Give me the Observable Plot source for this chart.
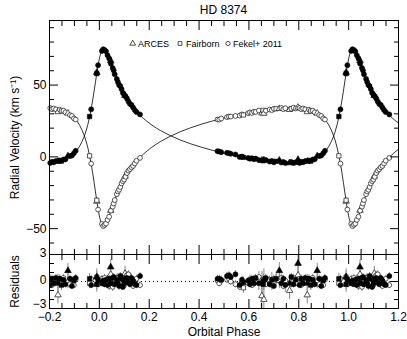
<!DOCTYPE html>
<html><head><meta charset="utf-8">
<script src="https://cdn.jsdelivr.net/npm/d3@7"></script>
<script src="https://cdn.jsdelivr.net/npm/@observablehq/plot@0.6"></script>
<style>
body{margin:0;background:#fff;}
#wrap{position:relative;width:407px;height:339px;font-family:"Liberation Sans",Arial,sans-serif;color:#000;}
#title{height:20px;line-height:20px;font-size:12px;padding-left:49px;width:349px;text-align:center;}
#wrap svg{display:block;}
</style></head><body><div id="wrap"><div id="title">HD 8374</div></div>
<script>
// ---- Orbital model curve, phase in [0,1)
const curvePhase = [0.0000,0.00507,0.01024,0.01551,0.02099,0.02673,0.0328,0.03926,0.04614,0.05354,0.0615,0.06998,0.0791,0.08897,0.0995,0.1107,0.1227,0.1354,0.1489,0.1632,0.1783,0.2106,0.2458,0.2837,0.3239,0.3661,0.4099,0.4547,0.5000,0.5453,0.5901,0.6339,0.6761,0.7163,0.7542,0.7894,0.8218,0.8511,0.8773,0.9005,0.9209,0.9385,0.94647,0.9539,0.96075,0.9672,0.97328,0.9790,0.98449,0.9898,0.99493];
const curveV1 = [68.30,71.76,73.98,74.93,74.65,73.33,71.15,68.34,65.05,61.51,57.84,54.12,50.47,46.92,43.51,40.27,37.19,34.29,31.55,28.99,26.58,22.18,18.31,14.88,11.83,9.12,6.70,4.53,2.61,0.91,-0.57,-1.82,-2.83,-3.57,-3.98,-3.99,-3.50,-2.35,-0.34,2.81,7.45,13.94,18.00,22.61,27.80,33.48,39.57,45.90,52.22,58.27,63.72];
const curveV2 = [-41.14,-44.74,-47.03,-48.02,-47.73,-46.36,-44.10,-41.18,-37.77,-34.10,-30.28,-26.42,-22.64,-18.95,-15.41,-12.04,-8.84,-5.84,-3.00,-0.33,2.17,6.73,10.75,14.31,17.47,20.29,22.80,25.05,27.04,28.81,30.34,31.64,32.69,33.46,33.89,33.90,33.39,32.20,30.11,26.83,22.03,15.28,11.07,6.29,0.90,-5.00,-11.32,-17.88,-24.45,-30.73,-36.39];

// ---- Observations
const sourceCodes = ["A","B","F"];
const sourceNames = ["ARCES","Fairborn","Fekel+ 2011"];
const sourceSymbols = ["triangle","square","circle"];
const obsPhase = [0.9608,0.9672,0.9898,0.9898,0.9949,0.0102,0.0155,0.0210,0.0267,0.0328,0.0393,0.0455,0.0461,0.0535,0.0575,0.0615,0.0700,0.0745,0.0791,0.0840,0.0890,0.0942,0.0995,0.1030,0.1050,0.1107,0.1167,0.1227,0.1290,0.1354,0.1420,0.1489,0.1632,
 0.474,0.481,0.489,0.512,0.520,0.527,0.546,0.563,0.572,0.578,0.597,0.604,0.612,0.620,0.627,0.640,0.652,0.657,0.660,0.668,0.683,0.692,0.700,0.709,0.722,0.730,0.738,0.746,0.763,0.770,0.779,0.788,0.797,0.803,0.810,0.817,0.826,0.834,0.841,0.848,0.856,0.864,0.874,0.882,0.890,0.898,0.905];
const obsSource = ["B","F","A","B","F","F","F","F","F","F","F","A","F","F","F","F","F","F","F","F","F","F","F","A","F","F","F","F","F","F","F","F","F",
 "F","F","F","F","F","F","F","F","F","B","F","F","F","F","F","F","A","B","A","F","F","F","F","B","A","F","F","F","A","F","F","F","A","F","F","F","F","A","F","B","F","F","A","F","F","F","F"];
const obsV1 = [28.1,33.1,58.8,58.0,63.9,73.8,75.0,74.4,73.5,70.8,68.6,67.0,64.9,61.9,60.2,57.5,54.3,52.1,50.0,49.3,47.2,44.6,43.3,42.7,42.2,40.7,38.6,36.9,36.2,34.4,32.6,31.2,29.6,
 4.0,3.7,3.3,2.8,2.6,2.1,1.7,-0.1,0.2,-0.3,-0.7,-1.3,-0.9,-1.6,-1.2,-2.2,-2.4,-2.7,-2.2,-2.2,-3.3,-2.9,-3.8,-3.1,-2.4,-3.9,-3.5,-4.3,-4.2,-3.5,-4.3,-3.8,-1.9,-4.2,-3.4,-3.8,-2.9,-3.2,-2.5,-2.9,-1.8,-1.7,0.6,0.6,0.9,2.6,4.2];
const obsV2 = [0.7,-4.7,-31.0,-30.2,-36.7,-46.7,-48.2,-47.3,-46.5,-43.9,-41.7,-37.3,-37.5,-34.7,-32.5,-30.1,-26.0,-24.1,-22.9,-21.0,-18.5,-16.9,-15.8,-13.5,-13.9,-11.3,-9.6,-8.6,-7.3,-6.3,-4.6,-2.7,-0.7,
 26.0,26.0,26.7,27.7,28.1,28.1,28.5,28.8,29.6,29.2,30.4,31.0,30.6,31.5,31.3,32.3,30.5,32.4,30.3,32.2,33.0,32.6,33.5,33.5,33.6,34.0,33.2,33.9,32.9,33.6,34.3,33.7,34.5,34.0,33.2,33.7,33.1,31.4,32.9,32.0,32.2,31.0,30.4,29.1,28.5,26.8,26.0];
const obsRes1 = [0.3,-0.4,0.5,-0.3,0.2,-0.2,0.1,-0.3,0.2,-0.4,0.3,1.6,-0.2,0.4,0.5,-0.3,0.2,-0.2,-0.5,0.6,0.3,-0.6,-0.2,0.2,0.3,0.4,-0.1,-0.3,0.4,0.1,-0.3,-0.4,0.6,
 0.3,0.3,0.2,0.6,0.7,0.5,0.8,-0.4,0.2,-0.1,0.1,-0.3,0.3,-0.2,0.4,-0.2,-0.1,-0.3,0.2,0.4,-0.3,0.2,-0.5,0.3,1.2,-0.2,0.3,-0.4,-0.2,0.5,-0.3,0.2,2.0,-0.4,0.3,-0.2,0.4,-0.2,0.3,-0.4,0.2,-0.3,1.2,0.3,-0.5,0.1,0.4];
const obsRes2 = [-0.2,0.3,-0.3,0.5,-0.3,0.3,-0.2,0.4,-0.1,0.2,-0.5,0.8,0.3,-0.6,-0.3,0.2,0.4,0.4,-0.3,-0.2,0.5,0.3,-0.4,0.9,-0.1,0.7,0.8,0.2,0.1,-0.5,-0.2,0.3,-0.4,
 0.1,-0.2,0.1,0.2,0.3,0.0,-0.3,-0.6,-0.1,-0.7,-0.2,0.2,-0.4,0.3,-0.1,0.5,-1.6,0.2,-2.0,-0.3,0.2,-0.4,0.3,0.2,0.1,0.4,-0.5,0.1,-1.0,-0.3,0.4,-0.2,0.7,0.3,-0.4,0.2,-0.1,-1.5,0.3,-0.3,0.4,-0.2,0.0,-0.3,0.2,-0.4,0.2];
const obsErr1 = [0.6,0.4,0.9,0.6,0.4,0.4,0.4,0.4,0.4,0.4,0.4,0.8,0.4,0.4,0.4,0.4,0.4,0.4,0.5,0.4,0.4,0.4,0.4,0.8,0.4,0.4,0.4,0.4,0.4,0.4,0.4,0.4,0.4,
 0.4,0.4,0.4,0.4,0.4,0.4,0.4,0.4,0.4,0.6,0.4,0.4,0.4,0.5,0.4,0.8,1.2,0.6,1.2,0.4,0.4,0.8,0.4,0.6,0.9,0.4,0.4,0.8,1.0,0.4,0.4,0.4,1.1,0.4,0.4,0.4,0.4,1.0,0.4,0.6,0.4,0.4,0.8,0.4,0.4,0.4,0.4];
const obsErr2 = [0.6,0.4,0.9,0.6,0.4,0.4,0.4,0.4,0.4,0.5,0.5,0.8,0.4,0.5,0.4,0.4,0.4,0.5,0.4,0.4,0.4,0.4,0.4,0.8,0.4,0.4,0.4,0.4,0.4,0.4,0.4,0.4,0.4,
 0.4,0.4,0.4,0.4,0.4,0.4,0.4,0.4,0.4,0.6,0.4,0.5,0.4,0.4,0.4,0.6,1.5,0.6,1.6,0.4,0.4,0.6,0.4,0.6,0.9,0.4,0.4,0.4,1.0,0.4,0.4,0.4,1.0,0.4,0.4,0.4,0.4,1.0,0.4,0.6,0.4,0.4,0.8,0.4,0.4,0.4,0.4];

// ---- Axis tick values
const xMajor = [-0.2,0.0,0.2,0.4,0.6,0.8,1.0,1.2];
const xMinor = [-0.15,-0.1,-0.05,0.05,0.1,0.15,0.25,0.3,0.35,0.45,0.5,0.55,0.65,0.7,0.75,0.85,0.9,0.95,1.05,1.1,1.15];
const rvMajor = [-50,0,50];
const rvMinor = [-60,-40,-30,-20,-10,10,20,30,40,60,70,80,90];
const resMajor = [-3,0,3];
const resMinor = [-2,-1,1,2];

// ---- build tables (each observation shown again one cycle earlier/later, as in the reference)
const symOf = Object.fromEntries(sourceCodes.map((c,i)=>[c,sourceNames[i]]));
const obs = [];
obsPhase.forEach((p,i)=>{
  for (const s of [-1,0,1]) {
    const x = p + s;
    if (x >= -0.2 && x <= 1.2) obs.push({x, src: symOf[obsSource[i]], v1: obsV1[i], v2: obsV2[i], r1: obsRes1[i], r2: obsRes2[i], e1: obsErr1[i], e2: obsErr2[i]});
  }
});
const curve = [];
for (const s of [-1,0,1]) curvePhase.forEach((p,i)=>{const x=p+s; if (x>=-0.27 && x<=1.27) curve.push({x, v1: curveV1[i], v2: curveV2[i]});});
curve.sort((a,b)=>a.x-b.x);

const font = '"Liberation Sans",Arial,sans-serif';
const common = {width: 407, marginLeft: 49, marginRight: 9,
  style: {fontFamily: font, fontSize: "12px", background: "white", color: "black", overflow: "visible"}};
const symScale = {domain: sourceNames, range: sourceSymbols};
const blank = () => "";

function frameTicks(yMaj, yMin) {
  const m = [];
  for (const a of ["top","bottom"]) {
    m.push(Plot.axisX(xMajor, {anchor: a, tickSize: -9, tickFormat: blank, label: null}));
    m.push(Plot.axisX(xMinor, {anchor: a, tickSize: -5, tickFormat: blank, label: null}));
  }
  for (const a of ["left","right"]) {
    m.push(Plot.axisY(yMaj, {anchor: a, tickSize: -9, tickFormat: blank, label: null}));
    m.push(Plot.axisY(yMin, {anchor: a, tickSize: -5, tickFormat: blank, label: null}));
  }
  return m;
}

const topPlot = Plot.plot({...common, height: 234, marginTop: 0, marginBottom: 0,
  x: {domain: [-0.2,1.2], axis: null},
  y: {domain: [-68,95], axis: null},
  symbol: symScale,
  marks: [
    Plot.line(curve, {x: "x", y: "v1", curve: "catmull-rom", stroke: "black", strokeWidth: 0.8, clip: true}),
    Plot.line(curve, {x: "x", y: "v2", curve: "catmull-rom", stroke: "black", strokeWidth: 0.8, clip: true}),
    Plot.dot(obs, {x: "x", y: "v2", symbol: "src", r: 2.4, fill: "white", stroke: "#222", strokeWidth: 0.75}),
    Plot.dot(obs, {x: "x", y: "v1", symbol: "src", r: 2.5, fill: "black", stroke: "black", strokeWidth: 0.6}),
    Plot.frame({stroke: "black"}),
    ...frameTicks(rvMajor, rvMinor),
    Plot.axisY(rvMajor, {anchor: "left", tickSize: 0, tickPadding: 3, fontSize: 12,
      label: "Radial Velocity (km s\u207B\u00B9)", labelAnchor: "center", labelOffset: 39, labelArrow: false})
  ]
});

const botPlot = Plot.plot({...common, height: 85, marginTop: 0, marginBottom: 31,
  x: {domain: [-0.2,1.2], axis: null},
  y: {domain: [-3,3], axis: null},
  symbol: symScale,
  marks: [
    Plot.ruleY([0], {stroke: "black", strokeDasharray: "1,3"}),
    Plot.ruleX(obs, {x: "x", y1: d => d.r2 - d.e2, y2: d => d.r2 + d.e2, stroke: "#888", strokeWidth: 1, clip: true}),
    Plot.ruleX(obs, {x: "x", y1: d => d.r1 - d.e1, y2: d => d.r1 + d.e1, stroke: "#888", strokeWidth: 1, clip: true}),
    Plot.dot(obs, {x: "x", y: "r2", symbol: "src", r: 2.4, fill: "white", stroke: "#222", strokeWidth: 0.75, clip: true}),
    Plot.dot(obs, {x: "x", y: "r1", symbol: "src", r: 2.5, fill: "black", stroke: "black", strokeWidth: 0.6, clip: true}),
    Plot.frame({stroke: "black"}),
    ...frameTicks(resMajor, resMinor),
    Plot.axisY([3, 0], {anchor: "left", tickSize: 0, tickPadding: 3, fontSize: 12, dy: -1,
      label: "Residuals", labelAnchor: "center", labelOffset: 39, labelArrow: false}),
    Plot.axisY([-3], {anchor: "left", tickSize: 0, tickPadding: 3, fontSize: 12, dy: -4, label: null}),
    Plot.axisX(xMajor, {anchor: "bottom", tickSize: 0, tickPadding: 4, fontSize: 12, tickFormat: d3.format(".1f"),
      label: "Orbital Phase", labelAnchor: "center", labelOffset: 27, labelArrow: false})
  ]
});

const wrap = document.getElementById("wrap");
wrap.appendChild(topPlot);
wrap.appendChild(botPlot);

// legend inside the top panel
const legendItems = [
  {sym: d3.symbolTriangle, label: sourceNames[0], sx: 132.7, tx: 138},
  {sym: d3.symbolSquare, label: sourceNames[1], sx: 180, tx: 186},
  {sym: d3.symbolCircle, label: sourceNames[2], sx: 228, tx: 233}
];
const leg = d3.create("svg").attr("width", 407).attr("height", 16)
  .style("position","absolute").style("left","0px").style("top","36px").style("overflow","visible");
for (const it of legendItems) {
  leg.append("path").attr("d", d3.symbol(it.sym, 14)()).attr("transform", `translate(${it.sx},7.5)`)
    .attr("fill","white").attr("stroke","black").attr("stroke-width",0.7);
  leg.append("text").attr("x", it.tx).attr("y", 11).attr("font-size", 9).attr("font-family", font).text(it.label);
}
wrap.appendChild(leg.node());
</script></body></html>
